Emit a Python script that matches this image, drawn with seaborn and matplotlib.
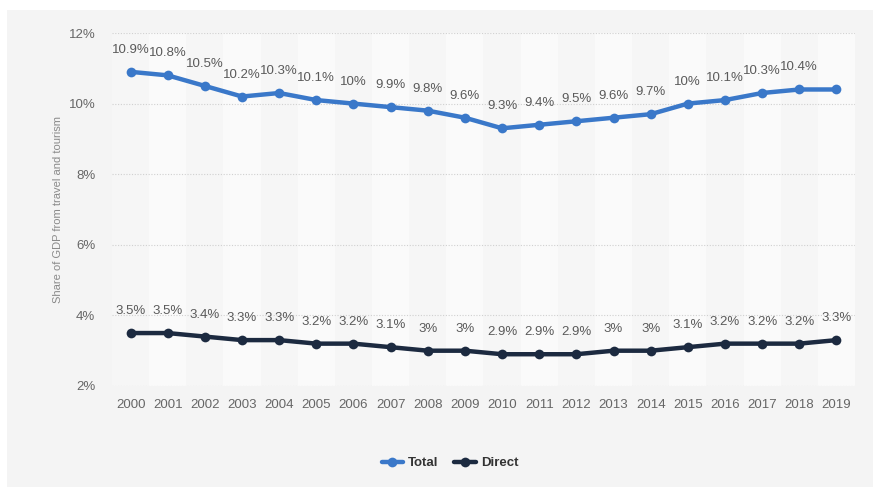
import matplotlib
matplotlib.use("Agg")
import matplotlib.pyplot as plt
import matplotlib.patches as mpatches
from matplotlib.lines import Line2D
import seaborn as sns
import pandas as pd

years = list(range(2000, 2020))
total = [10.9, 10.8, 10.5, 10.2, 10.3, 10.1, 10.0, 9.9, 9.8, 9.6,
         9.3, 9.4, 9.5, 9.6, 9.7, 10.0, 10.1, 10.3, 10.4, 10.4]
direct = [3.5, 3.5, 3.4, 3.3, 3.3, 3.2, 3.2, 3.1, 3.0, 3.0,
          2.9, 2.9, 2.9, 3.0, 3.0, 3.1, 3.2, 3.2, 3.2, 3.3]
series_names = ["Total", "Direct"]
y_ticks = [2, 4, 6, 8, 10, 12]
y_label = "Share of GDP from travel and tourism"

colors = {"Total": "#3a78c9", "Direct": "#1c2a40"}

df = pd.DataFrame({
    "idx": list(range(len(years))) * 2,
    "year": years * 2,
    "value": total + direct,
    "series": ["Total"] * len(years) + ["Direct"] * len(years),
})

sns.set_theme(style="white")
plt.rcParams["font.family"] = ["Liberation Sans", "DejaVu Sans"]

fig = plt.figure(figsize=(8.81, 4.87), dpi=100)
fig.patch.set_facecolor("white")
# light gray card behind the chart
fig.patches.append(mpatches.Rectangle((7 / 881, 0.0), 866 / 881, 1 - 10 / 487,
                                      transform=fig.transFigure,
                                      facecolor="#f4f4f4", edgecolor="none",
                                      zorder=-10))

ax = fig.add_axes([112 / 881, 1 - 386 / 487, 743 / 881, 353 / 487])
ax.set_facecolor("#f6f6f6")

n = len(years)
# alternating column bands
for i in range(n):
    ax.axvspan(i - 0.5, i + 0.5, facecolor="#f6f6f6" if i % 2 == 0 else "#fafafa",
               edgecolor="none", zorder=0)

ax.set_ylim(2, 12)
ax.set_xlim(-0.5, n - 0.5)
for t in y_ticks:
    ax.axhline(t, color="#d0d0d0", linestyle=(0, (1, 1.5)), linewidth=0.8, zorder=1)

sns.lineplot(data=df, x="idx", y="value", hue="series", hue_order=series_names,
             palette=colors, marker="o", markersize=7, markeredgewidth=0,
             linewidth=3.2, ax=ax, legend=False, zorder=3)

for vals in (total, direct):
    for i, v in enumerate(vals):
        if vals is total and i == n - 1:
            continue
        ax.annotate(f"{v:g}%", (i, v), xytext=(0, 22), textcoords="offset pixels",
                    ha="center", va="center", fontsize=9.5, color="#5a5a5a",
                    zorder=4)

ax.set_xticks(range(n))
ax.set_xticklabels([str(y) for y in years])
ax.set_yticks(y_ticks)
ax.set_yticklabels([f"{t}%" for t in y_ticks])
ax.tick_params(axis="both", length=0, labelsize=9.5, labelcolor="#666666")
ax.tick_params(axis="x", pad=9)
ax.tick_params(axis="y", pad=12)
ax.set_xlabel("")
ax.set_ylabel(y_label, fontsize=8, color="#8a8a8a", labelpad=4)
for s in ax.spines.values():
    s.set_visible(False)

handles = [Line2D([0], [0], color=colors[s], linewidth=3.2, marker="o",
                  markersize=7, markeredgewidth=0) for s in series_names]
leg = fig.legend(handles, series_names, loc="center", bbox_to_anchor=(450 / 881, 1 - 463 / 487),
                 ncol=2, frameon=False, handlelength=1.6, columnspacing=1.2,
                 handletextpad=0.4, prop={"weight": "bold", "size": 9.5})
for txt in leg.get_texts():
    txt.set_color("#333333")

fig.savefig("out.png", dpi=100, facecolor=fig.get_facecolor())
